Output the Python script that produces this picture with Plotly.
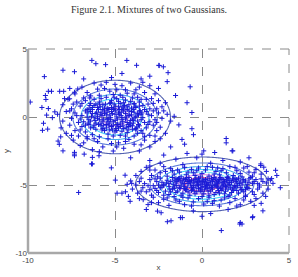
import numpy as np
import plotly.graph_objects as go

# ---- data ----
title_text = "Figure 2.1. Mixtures of two Gaussians."
x_ticks = [-10, -5, 0, 5]
y_ticks = [-10, -5, 0, 5]

# cluster 1 points (centred near (-5, 0))
c1_pts = [
    (-7.3,1.7),(-6.9,2.2),(-6.6,1.8),(-6.2,2.5),(-5.9,1.6),(-5.6,2.1),(-5.3,1.9),(-5.0,2.4),(-4.7,1.6),(-4.4,2.0),
    (-4.1,2.5),(-3.9,1.7),(-3.6,2.2),(-3.3,1.8),(-3.0,2.3),(-2.7,1.7),(-6.4,1.55),(-5.5,2.55),(-4.6,2.3),(-3.8,2.0),
    (-7.6,2.1),(-2.5,2.1),(-5.1,1.65),(-4.3,1.75),(-6.0,2.05),(-5.8,2.35),(-4.9,2.0),(-3.4,2.55),
    (-8.0,0.9),(-7.7,1.3),(-7.5,0.6),(-7.2,1.1),(-7.0,0.8),(-6.8,1.4),(-6.6,0.55),(-6.4,1.0),(-6.2,1.3),(-6.0,0.7),
    (-5.9,1.1),(-5.7,0.9),(-5.5,1.45),(-5.4,0.6),(-5.2,1.2),(-5.0,0.8),(-4.9,1.35),(-4.7,1.0),(-4.5,0.65),(-4.4,1.25),
    (-4.2,0.9),(-4.0,1.4),(-3.8,0.7),(-3.6,1.1),(-3.4,0.85),(-3.2,1.3),(-3.0,0.6),(-2.8,1.0),(-2.5,1.2),(-2.3,0.75),
    (-6.9,1.0),(-6.3,0.7),(-5.8,1.35),(-5.1,0.55),(-4.6,0.75),(-4.1,1.15),(-3.7,1.45),(-3.3,0.55),(-2.9,1.35),(-7.4,0.95),
    (-6.7,1.2),(-6.1,0.95),(-5.6,0.65),(-5.3,1.0),(-4.8,1.15),(-4.3,0.55),(-3.9,1.0),(-3.5,1.3),(-2.6,0.6),(-7.9,1.35),
    (-5.05,1.45),(-4.55,1.45),(-6.45,1.4),(-3.1,0.95),(-2.1,1.05),
    (-8.3,0.2),(-8.0,-0.3),(-7.8,0.4),(-7.5,-0.1),(-7.3,0.3),(-7.1,-0.4),(-6.9,0.1),(-6.7,0.45),(-6.5,-0.2),(-6.3,0.25),
    (-6.1,-0.45),(-6.0,0.05),(-5.8,0.35),(-5.7,-0.3),(-5.5,0.15),(-5.4,-0.1),(-5.2,0.4),(-5.1,-0.35),(-4.9,0.0),(-4.8,0.3),
    (-4.6,-0.2),(-4.5,0.45),(-4.3,-0.4),(-4.2,0.1),(-4.0,-0.15),(-3.9,0.35),(-3.7,-0.3),(-3.5,0.2),(-3.4,-0.05),(-3.2,0.4),
    (-3.0,-0.35),(-2.9,0.1),(-2.7,-0.2),(-2.5,0.3),(-2.3,-0.1),(-2.0,0.2),(-1.8,-0.3),(-7.6,0.45),(-7.0,-0.15),(-6.6,0.0),
    (-6.2,-0.05),(-5.9,-0.2),(-5.6,0.45),(-5.3,-0.45),(-5.0,0.2),(-4.7,-0.45),(-4.4,0.25),(-4.1,-0.25),(-3.8,0.05),(-3.6,0.45),
    (-3.3,-0.4),(-3.1,0.2),(-2.8,0.45),(-2.6,-0.4),(-6.8,-0.35),(-6.4,0.4),(-5.75,0.1),(-5.25,-0.2),(-4.85,-0.15),(-4.35,0.0),
    (-3.95,-0.45),(-3.45,0.3),(-2.2,0.45),(-1.6,0.05),(-8.6,-0.05),(-7.2,0.1),(-5.45,0.35),(-4.65,0.1),(-4.05,0.4),(-3.65,0.15),
    (-8.1,-0.8),(-7.8,-1.2),(-7.6,-0.6),(-7.3,-1.0),(-7.1,-1.4),(-6.9,-0.7),(-6.7,-1.1),(-6.5,-0.55),(-6.3,-1.3),(-6.1,-0.9),
    (-5.9,-1.45),(-5.8,-0.65),(-5.6,-1.0),(-5.4,-1.25),(-5.2,-0.7),(-5.0,-1.1),(-4.9,-0.55),(-4.7,-1.35),(-4.5,-0.85),(-4.3,-1.15),
    (-4.1,-0.6),(-3.9,-1.4),(-3.8,-0.95),(-3.6,-0.65),(-3.4,-1.2),(-3.2,-0.8),(-3.0,-1.35),(-2.8,-0.6),(-2.6,-1.0),(-2.4,-0.75),
    (-2.1,-1.2),(-7.0,-0.95),(-6.6,-1.45),(-6.2,-0.6),(-5.7,-0.85),(-5.3,-0.95),(-4.8,-0.8),(-4.4,-1.4),(-4.0,-0.9),(-3.5,-1.0),
    (-3.1,-0.55),(-2.7,-1.4),(-6.4,-0.8),(-5.5,-0.55),(-4.6,-1.05),(-3.7,-1.2),(-7.5,-1.35),(-5.1,-1.4),(-4.2,-0.7),(-3.3,-1.45),
    (-7.4,-1.7),(-7.0,-2.1),(-6.6,-1.6),(-6.3,-2.4),(-6.0,-1.8),(-5.7,-2.2),(-5.4,-1.6),(-5.1,-2.5),(-4.8,-1.9),(-4.5,-2.3),
    (-4.2,-1.65),(-3.9,-2.0),(-3.6,-2.5),(-3.3,-1.7),(-3.0,-2.2),(-2.7,-1.8),(-6.8,-1.9),(-5.9,-2.55),(-5.2,-1.95),(-4.4,-1.8),
    (-3.5,-2.05),(-2.4,-1.6),(-6.2,-1.6),(-4.9,-2.2),
    (-9.06,2.97),(-7.99,3.44),(-7.33,3.33),(-6.33,4.16),(-8.83,1.89),(-8.65,1.89),(-8.18,1.89),(-7.95,1.89),(-9.87,1.10),(-9.0,1.58),
    (-8.97,1.29),(-8.83,0.62),(-9.2,0.7),(-8.46,0.38),(-7.61,1.34),(-7.33,1.82),(-7.14,2.06),(-8.93,0.14),(-9.11,-0.46),(-8.87,-0.89),
    (-9.17,-0.98),(-8.12,-1.46),(-7.99,-2.49),(-7.33,-2.73),(-6.77,-2.73),(-6.3,-3.45),(-8.27,-1.77),(-8.2,-2.01),(-7.33,-2.6),(-7.33,-2.85),
    (-7.09,-5.55),(-6.3,-2.97),(-6.35,-3.45),(-5.92,-2.85),(-5.21,-3.74),(-2.46,3.78),(-2.22,3.69),(-1.95,3.26),(-0.68,2.22),(-0.86,1.05),
    (-1.52,1.58),(-0.58,0.33),(-1.33,-0.58),(-0.58,-0.86),(-0.49,-1.3),(1.39,-1.58),(1.39,-1.9),(-1.15,-1.65),(-6.1,3.92),(-5.54,3.85),
    (-4.32,4.16),(-3.76,3.8),(-2.48,3.8),(-3.0,3.0),(-4.6,3.2),(-5.2,2.9),(-6.8,2.8),(-3.5,2.8),(-2.0,2.6),(-1.8,-2.2),
    (-1.0,-2.0),(-2.2,-2.8),(-3.0,-3.2),(-4.1,-3.0),
    (-6.45,0.85),(-6.25,-0.75),(-6.05,0.35),(-5.95,-0.55),(-5.85,0.75),(-5.65,-0.15),(-5.55,0.95),(-5.35,-0.65),(-5.15,0.25),(-4.95,-0.85),
    (-4.75,0.55),(-4.55,-0.35),(-4.45,0.85),(-4.25,-0.95),(-4.15,0.15),(-3.95,-0.25),(-3.85,0.75),(-3.75,-0.75),(-3.55,0.45),(-6.35,0.05),
    (-6.15,-0.25),(-5.95,0.55),(-5.75,-0.95),(-5.45,0.65),(-5.25,-0.05),(-5.05,0.95),(-4.85,-0.55),(-4.65,0.35),(-4.35,-0.75),(-4.05,0.65),
    (-3.85,-0.05),(-3.65,-0.55),(-6.55,-0.45),(-6.5,0.6),(-5.6,0.25),(-5.4,-0.35),(-5.0,-0.25),(-4.8,0.75),(-4.6,0.55),(-4.4,-0.15),
    (-4.2,0.45),(-4.0,-0.65),(-3.9,0.95),(-3.7,0.25),(-5.2,0.7),(-5.5,-0.8),(-6.0,-0.1),(-6.3,0.55),(-5.8,-0.45),(-4.5,1.05),
    (-4.95,0.45),(-5.3,0.15),(-5.7,0.55),(-6.1,0.25),(-4.25,-0.55),(-4.7,-0.7),(-5.1,-0.6),(-5.9,0.95),(-3.6,0.8),(-3.5,-0.2),
    (-6.7,-0.6),(-6.6,0.3),(-5.35,0.55),(-4.9,-1.0),(-4.3,0.75),(-3.8,-0.85),(-5.65,-0.6),(-6.2,0.85),(-4.6,-0.05),(-5.15,-0.95),
    (-4.05,0.15),(-5.45,-0.2),(-4.75,0.2),(-5.85,0.2),(-4.15,-0.45),(-3.95,0.55),(-6.4,-0.3),(-5.05,0.6),(-4.55,-0.6),(-5.25,1.05),
]

# cluster 2 points (centred near (0, -5))
c2_pts = [
    (0.0,-2.73),(0.73,-2.61),(1.77,-2.49),(-0.86,-2.68),(0.1,-2.49),(3.37,-3.57),(3.55,-3.69),(4.23,-3.92),(3.38,-3.45),(-1.5,-3.1),
    (-2.4,-3.4),(-0.3,-3.0),(1.2,-3.2),(2.2,-3.3),(-3.0,-3.6),(0.5,-3.4),(-1.1,-3.5),(2.7,-3.0),(1.73,-2.49),
    (-3.5,-4.0),(-3.2,-3.7),(-2.9,-4.3),(-2.7,-3.9),(-2.4,-4.1),(-2.2,-3.65),(-2.0,-4.35),(-1.8,-3.8),(-1.6,-4.2),(-1.4,-3.9),
    (-1.2,-4.4),(-1.0,-3.7),(-0.8,-4.05),(-0.6,-3.85),(-0.4,-4.3),(-0.2,-3.75),(0.0,-4.15),(0.2,-3.9),(0.4,-4.35),(0.6,-3.7),
    (0.8,-4.0),(1.0,-4.25),(1.2,-3.8),(1.4,-4.1),(1.6,-3.65),(1.8,-4.3),(2.0,-3.95),(2.2,-4.15),(2.4,-3.75),(2.7,-4.05),
    (2.9,-4.35),(3.1,-3.85),(3.4,-4.2),(3.7,-4.0),(-3.8,-4.3),(-2.55,-4.4),(-1.7,-3.95),(-0.9,-4.25),(-0.1,-4.4),(0.7,-4.2),
    (1.5,-4.4),(2.3,-4.4),(3.0,-4.1),(-1.3,-4.05),(0.3,-3.65),(1.1,-3.95),(1.9,-3.7),(-0.5,-4.1),(-2.1,-4.0),(2.6,-3.65),
    (-3.0,-3.9),(0.9,-3.75),(-0.3,-3.95),
    (-4.1,-4.7),(-3.8,-5.0),(-3.5,-4.5),(-3.3,-4.9),(-3.0,-4.6),(-2.8,-5.05),(-2.6,-4.75),(-2.4,-4.5),(-2.2,-4.95),(-2.0,-4.65),
    (-1.9,-5.1),(-1.7,-4.45),(-1.5,-4.85),(-1.4,-4.6),(-1.2,-5.0),(-1.1,-4.7),(-0.9,-4.5),(-0.8,-4.9),(-0.6,-4.65),(-0.5,-5.05),
    (-0.3,-4.8),(-0.2,-4.5),(0.0,-4.95),(0.1,-4.7),(0.3,-4.55),(0.4,-5.0),(0.6,-4.75),(0.7,-4.45),(0.9,-4.9),(1.0,-4.6),
    (1.2,-5.05),(1.3,-4.75),(1.5,-4.5),(1.6,-4.95),(1.8,-4.65),(2.0,-4.85),(2.1,-4.5),(2.3,-5.0),(2.5,-4.7),(2.7,-4.55),
    (2.9,-4.9),(3.1,-4.6),(3.3,-5.0),(3.5,-4.75),(3.8,-4.55),(4.0,-4.53),(3.93,-4.64),(-3.6,-4.75),(-3.1,-5.05),(-2.7,-4.55),
    (-2.3,-4.8),(-1.8,-4.75),(-1.3,-4.5),(-1.0,-4.9),(-0.7,-4.75),(-0.4,-4.6),(-0.1,-4.85),(0.2,-4.6),(0.5,-4.85),(0.8,-4.55),
    (1.1,-4.8),(1.4,-4.65),(1.7,-4.8),(1.9,-4.5),(2.2,-4.7),(2.6,-4.95),(3.0,-4.75),(3.4,-4.55),(-2.5,-5.0),(-1.6,-4.65),
    (-0.65,-5.0),(0.25,-5.05),(1.15,-4.55),(2.05,-5.05),(2.8,-4.45),(-0.95,-4.6),(0.55,-4.5),(1.55,-4.8),(-0.25,-4.95),(0.85,-5.1),
    (-1.45,-5.05),(2.4,-4.6),(4.08,-4.88),(3.7,-4.85),(-4.3,-4.95),
    (-4.0,-5.3),(-3.7,-5.6),(-3.4,-5.2),(-3.2,-5.5),(-2.9,-5.75),(-2.7,-5.25),(-2.5,-5.55),(-2.3,-5.15),(-2.1,-5.45),(-1.9,-5.7),
    (-1.7,-5.3),(-1.5,-5.55),(-1.3,-5.2),(-1.1,-5.6),(-0.9,-5.35),(-0.7,-5.75),(-0.5,-5.2),(-0.3,-5.5),(-0.1,-5.3),(0.1,-5.65),
    (0.3,-5.25),(0.5,-5.45),(0.7,-5.7),(0.9,-5.2),(1.1,-5.4),(1.3,-5.65),(1.5,-5.3),(1.7,-5.55),(1.9,-5.2),(2.1,-5.6),
    (2.3,-5.35),(2.5,-5.75),(2.7,-5.25),(2.9,-5.5),(3.2,-5.3),(3.5,-5.6),(3.66,-5.84),(-3.0,-5.35),(-2.2,-5.75),(-1.6,-5.15),
    (-1.0,-5.25),(-0.4,-5.65),(0.2,-5.15),(0.8,-5.55),(1.4,-5.15),(2.0,-5.4),(2.6,-5.2),(3.0,-5.7),(-0.8,-5.5),(0.4,-5.75),
    (1.6,-5.75),(-2.6,-5.4),(-1.4,-5.45),(-0.2,-5.25),(1.0,-5.6),(2.2,-5.2),(3.8,-5.3),(-4.4,-5.5),(-1.8,-5.5),(0.0,-5.45),
    (0.6,-5.3),(1.2,-5.3),(1.8,-5.4),(2.4,-5.5),(-0.6,-5.4),(-1.2,-5.75),(3.3,-5.15),(-3.5,-5.45),
    (-3.6,-6.0),(-3.38,-6.08),(-3.1,-6.44),(-2.8,-5.9),(-2.5,-6.3),(-2.2,-6.05),(-1.9,-6.5),(-1.6,-5.85),(-1.3,-6.2),(-1.0,-6.45),
    (-0.8,-5.95),(-0.5,-6.25),(-0.2,-6.0),(0.1,-6.4),(0.4,-5.9),(0.7,-6.15),(1.0,-6.55),(1.3,-5.95),(1.6,-6.3),(1.9,-6.0),
    (2.2,-6.45),(2.5,-5.85),(2.8,-6.2),(3.1,-6.0),(3.4,-6.35),(-2.0,-5.95),(-0.6,-6.55),(0.6,-6.35),(1.5,-5.85),(2.4,-6.1),
    (-1.1,-5.9),(0.0,-5.85),(-2.9,-6.3),(1.1,-6.1),(3.0,-6.5),(-1.5,-6.1),(0.3,-6.2),(2.0,-6.55),
    (2.2,-7.76),(2.3,-7.87),(1.11,-8.35),(-1.99,-7.7),(-2.56,-6.92),(-1.24,-7.4),(2.9,-7.4),(2.92,-7.33),(2.17,-7.87),(-2.35,-7.04),
    (-1.78,-7.63),(-1.13,-7.4),(-0.5,-6.9),(0.5,-7.1),(1.5,-6.8),(-3.2,-6.8),(3.5,-6.9),(0.0,-7.3),(-4.23,-5.84),(-4.13,-6.2),
    (-4.6,-5.6),(-4.88,-5.6),(-4.98,-4.64),(-4.42,-4.28),(-4.04,-4.88),(4.5,-5.2),(4.3,-4.3),
    (-1.45,-4.75),(-1.25,-5.25),(-1.05,-4.55),(-0.85,-5.15),(-0.75,-4.65),(-0.55,-5.3),(-0.45,-4.85),(-0.35,-5.15),(-0.15,-4.65),(-0.05,-5.2),
    (0.05,-4.55),(0.15,-5.35),(0.35,-4.8),(0.45,-5.2),(0.65,-4.6),(0.75,-5.05),(0.95,-4.7),(1.05,-5.25),(1.25,-4.6),(1.35,-5.1),
    (1.45,-4.85),(1.65,-5.2),(1.75,-4.55),(1.85,-5.05),(1.95,-4.75),(-1.35,-4.55),(-1.15,-4.85),(-0.95,-5.35),(-0.65,-4.85),(-0.45,-5.45),
    (-0.25,-4.75),(0.05,-5.1),(0.25,-4.85),(0.55,-5.15),(0.85,-4.8),(1.05,-4.45),(1.25,-4.95),(1.55,-5.0),(1.75,-5.3),(2.15,-4.9),
    (-2.05,-4.85),(-1.85,-5.3),(-1.65,-4.95),(2.35,-4.8),(2.55,-5.15),(2.25,-5.35),(-0.75,-4.45),(0.35,-5.45),(1.45,-4.45),(-0.2,-5.05),
    (0.7,-4.95),(1.1,-5.15),(-1.05,-5.1),(-0.5,-4.7),(0.15,-4.85),(0.95,-5.4),(1.6,-4.65),(-1.6,-5.25),(2.7,-4.8),(-2.4,-5.2),
    (-0.35,-4.5),(0.45,-4.65),(1.35,-5.45),(-0.85,-4.75),(0.6,-5.2),(1.9,-5.1),(-1.25,-4.7),(0.0,-4.75),(0.8,-4.7),(-0.6,-5.2),
    (2.0,-4.6),(-1.9,-4.9),(1.2,-4.85),(0.3,-4.95),(-0.1,-5.45),(0.9,-5.0),(-1.5,-4.5),(2.5,-5.35),(-2.2,-5.05),(3.2,-4.9),
]

# fitted mixture parameters
mix_weights = [0.5, 0.5]
mix_means = [(-5.0, 0.0), (0.0, -4.95)]
mix_stds = [(1.45, 1.23), (1.67, 0.88)]
contour_levels = (0.004, 0.046, 0.007)

# ---- figure ----
c1x = [p[0] for p in c1_pts]; c1y = [p[1] for p in c1_pts]
c2x = [p[0] for p in c2_pts]; c2y = [p[1] for p in c2_pts]

gx = np.linspace(-10, 5, 301)
gy = np.linspace(-10, 5, 301)
GX, GY = np.meshgrid(gx, gy)
Z = np.zeros_like(GX)
for w, (mx, my), (sx, sy) in zip(mix_weights, mix_means, mix_stds):
    Z += w * np.exp(-0.5 * (((GX - mx) / sx) ** 2 + ((GY - my) / sy) ** 2)) / (2 * np.pi * sx * sy)

blue = "#1a1ad6"
marker = dict(symbol="cross-thin", size=3.6, line=dict(width=1, color=blue), color=blue)

fig = go.Figure()
fig.add_trace(go.Scatter(x=c1x + c2x, y=c1y + c2y, mode="markers", marker=marker,
                         hoverinfo="skip", showlegend=False))
fig.add_trace(go.Contour(
    x=gx, y=gy, z=Z, showscale=False, hoverinfo="skip",
    contours=dict(coloring="lines", start=contour_levels[0], end=contour_levels[1], size=contour_levels[2]),
    line=dict(width=1.1),
    colorscale=[[0, "#5362b0"], [0.2, "#5d7fe0"], [0.45, "#2fd0f5"], [0.7, "#7fe6ff"], [0.85, "#e07ae0"], [1, "#ff5a8c"]],
))

tick_font = dict(family="Liberation Sans, Arial, sans-serif", size=8, color="#444")
axis_common = dict(
    showgrid=True, gridcolor="#8a8a8a", griddash="dash", gridwidth=1,
    zeroline=False, showline=False, ticks="",
    tickfont=tick_font, title_font=tick_font,
)
fig.update_xaxes(range=[-10, 5], tickvals=x_ticks, ticktext=[str(t) for t in x_ticks],
                 title_text="x", title_standoff=0, ticklabelstandoff=1, **axis_common)
fig.update_yaxes(range=[-10, 5], tickvals=y_ticks, ticktext=[str(t) for t in y_ticks],
                 title_text="y", title_standoff=4, ticklabelstandoff=0, **axis_common)

# dashed top/right frame, solid left/bottom axis lines
fig.add_shape(type="line", xref="paper", yref="paper", x0=0, x1=1, y0=1, y1=1,
              line=dict(color="#8a8a8a", width=1, dash="dash"))
fig.add_shape(type="line", xref="paper", yref="paper", x0=1, x1=1, y0=0, y1=1,
              line=dict(color="#8a8a8a", width=1, dash="dash"))
fig.add_shape(type="line", xref="paper", yref="paper", x0=0, x1=0, y0=0, y1=1,
              line=dict(color="#a8a8a8", width=2.5))
fig.add_shape(type="line", xref="paper", yref="paper", x0=0, x1=1, y0=0, y1=0,
              line=dict(color="#a8a8a8", width=2.5))

fig.update_layout(
    width=298, height=277,
    margin=dict(l=26, r=6, t=49, b=19),
    paper_bgcolor="white", plot_bgcolor="white",
    title=dict(text=title_text, x=0.5, xanchor="center", y=0.965, yanchor="middle",
               font=dict(family="Liberation Serif, DejaVu Serif, serif", size=10, color="#333")),
)
fig.write_html("out.html")
